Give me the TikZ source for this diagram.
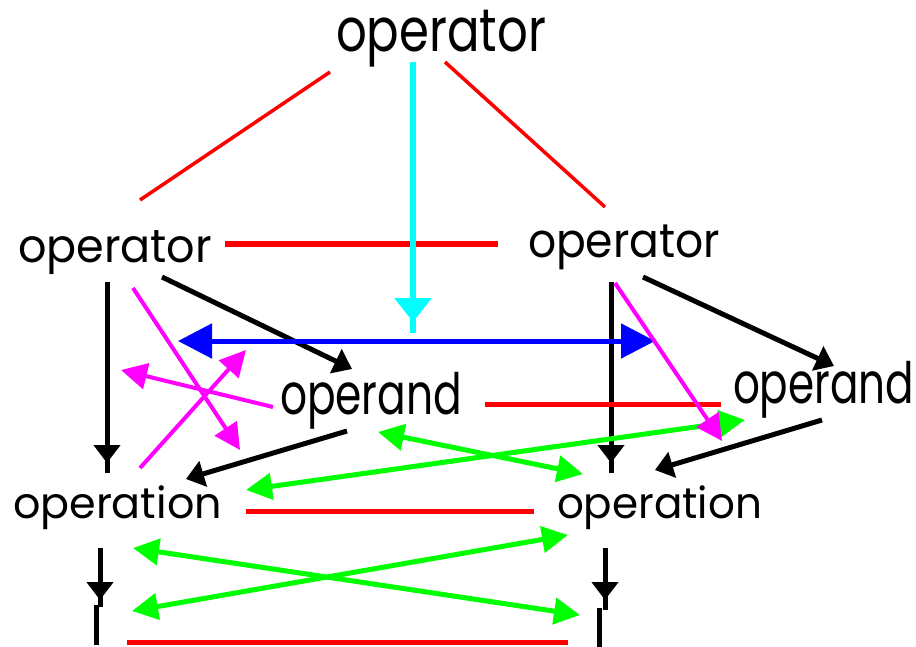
\documentclass[tikz,border=0pt]{standalone}
\usepackage{graphicx}
\usepackage{fontspec}
\setmainfont{Poppins}
\usetikzlibrary{arrows.meta}
\newcommand\fitword[3]{\resizebox*{#1bp}{#2bp}{#3}}
\definecolor{cred}{RGB}{255,0,0}
\definecolor{ccyan}{RGB}{0,255,255}
\definecolor{cblue}{RGB}{0,0,255}
\definecolor{cgreen}{RGB}{0,255,0}
\definecolor{cmag}{RGB}{255,0,255}
\tikzset{
  word/.style={inner sep=0pt, outer sep=0pt, anchor=north west},
  redline/.style={line width=5bp, cred},
  reddiag/.style={line width=3.5bp, cred},
  blk/.style={line width=5bp, black},
  blkarrow/.style={blk, -{Triangle[length=18bp,width=26bp]}},
  cyanarrow/.style={line width=6bp, ccyan, -{Triangle[length=24bp,width=36bp]}},
  bluearrow/.style={line width=5bp, cblue, {Triangle[length=34bp,width=34bp]}-{Triangle[length=34bp,width=34bp]}},
  greenarrow/.style={line width=5bp, cgreen, {Triangle[length=26bp,width=26bp]}-{Triangle[length=26bp,width=26bp]}},
  magarrow/.style={line width=4bp, cmag, -{Triangle[length=26bp,width=26bp]}},
}
\begin{document}
\begin{tikzpicture}[x=1bp,y=-1bp]
\useasboundingbox (0,0) rectangle (916,647);
\fill[white] (0,0) rectangle (916,647);
% words
\node[word] (top) at (336,10) {\fitword{210}{57}{operator}};
\node[word] (opl) at (18,231) {\fitword{194}{44}{operator}};
\node[word] (opr) at (528,225) {\fitword{192}{45}{operator}};
\node[word] (andm) at (280,372) {\fitword{182}{57}{operand}};
\node[word] (andr) at (733,361) {\fitword{181}{57}{operand}};
\node[word] (onl) at (13,486) {\fitword{209}{44}{operation}};
\node[word] (onr) at (557,486) {\fitword{205}{44}{operation}};
% coordinates
\coordinate (rdl1) at (330,72);  \coordinate (rdl2) at (140,200);
\coordinate (rdr1) at (445,62);  \coordinate (rdr2) at (605,207);
\coordinate (r1a) at (225,244);  \coordinate (r1b) at (498,244);
\coordinate (r2a) at (485,404);  \coordinate (r2b) at (721,404);
\coordinate (r3a) at (246,511);  \coordinate (r3b) at (534,511);
\coordinate (r4a) at (127,642);  \coordinate (r4b) at (568,642);
\coordinate (cya) at (413,62);   \coordinate (cyt) at (413,322); \coordinate (cye) at (413,333);
\coordinate (bla) at (178,341);  \coordinate (blb) at (655,341);
\coordinate (v1a) at (107,282);  \coordinate (v1t) at (107,463); \coordinate (v1e) at (107,473);
\coordinate (v2a) at (611,282);  \coordinate (v2t) at (611,463); \coordinate (v2e) at (611,473);
\coordinate (v3a) at (100,548);  \coordinate (v3t) at (100,600); \coordinate (v3e) at (100,607);
\coordinate (v3c) at (96,605);   \coordinate (v3d) at (96,645);
\coordinate (v4a) at (605,548);  \coordinate (v4t) at (605,600); \coordinate (v4e) at (605,610);
\coordinate (v4c) at (599,608);  \coordinate (v4d) at (599,647);
\coordinate (k1a) at (162,277);  \coordinate (k1b) at (352,369);
\coordinate (k2a) at (643,277);  \coordinate (k2b) at (834,366);
\coordinate (k3a) at (347,431);  \coordinate (k3b) at (186,479);
\coordinate (k4a) at (822,420);  \coordinate (k4b) at (655,470);
\coordinate (g1a) at (246,490);  \coordinate (g1b) at (745,420);
\coordinate (g2a) at (378,432);  \coordinate (g2b) at (583,474);
\coordinate (g3a) at (133,548);  \coordinate (g3b) at (580,615);
\coordinate (g4a) at (132,611);  \coordinate (g4b) at (568,535);
\coordinate (m1a) at (133,288);  \coordinate (m1b) at (240,450);
\coordinate (m2a) at (140,468);  \coordinate (m2b) at (246,350);
\coordinate (m3a) at (273,407);  \coordinate (m3b) at (121,370);
\coordinate (m4a) at (615,283);  \coordinate (m4b) at (722,441);
% red lines
\draw[reddiag] (rdl1) -- (rdl2);
\draw[reddiag] (rdr1) -- (rdr2);
\draw[redline] (r1a) -- (r1b);
\draw[redline] (r3a) -- (r3b);
\draw[redline] (r4a) -- (r4b);
% black verticals
\draw[blk] (v1a) -- (v1e); \draw[blkarrow] (v1a) -- (v1t);
\draw[blk] (v2a) -- (v2e); \draw[blkarrow] (v2a) -- (v2t);
\draw[blk] (v3a) -- (v3e); \draw[blkarrow] (v3a) -- (v3t);
\draw[blk] (v3c) -- (v3d);
\draw[blk] (v4a) -- (v4e); \draw[blkarrow] (v4a) -- (v4t);
\draw[blk] (v4c) -- (v4d);
\draw[redline] (r2a) -- (r2b);
% black diagonals
\draw[blkarrow] (k1a) -- (k1b);
\draw[blkarrow] (k2a) -- (k2b);
\draw[blkarrow] (k3a) -- (k3b);
\draw[blkarrow] (k4a) -- (k4b);
% cyan and blue
\draw[line width=6bp, ccyan] (cya) -- (cye);
\draw[cyanarrow] (cya) -- (cyt);
\draw[bluearrow] (bla) -- (blb);
% green
\draw[greenarrow] (g1a) -- (g1b);
\draw[greenarrow] (g2a) -- (g2b);
\draw[greenarrow] (g3a) -- (g3b);
\draw[greenarrow] (g4a) -- (g4b);
% magenta
\draw[magarrow] (m1a) -- (m1b);
\draw[magarrow] (m2a) -- (m2b);
\draw[magarrow] (m3a) -- (m3b);
\draw[magarrow] (m4a) -- (m4b);
\end{tikzpicture}
\end{document}
